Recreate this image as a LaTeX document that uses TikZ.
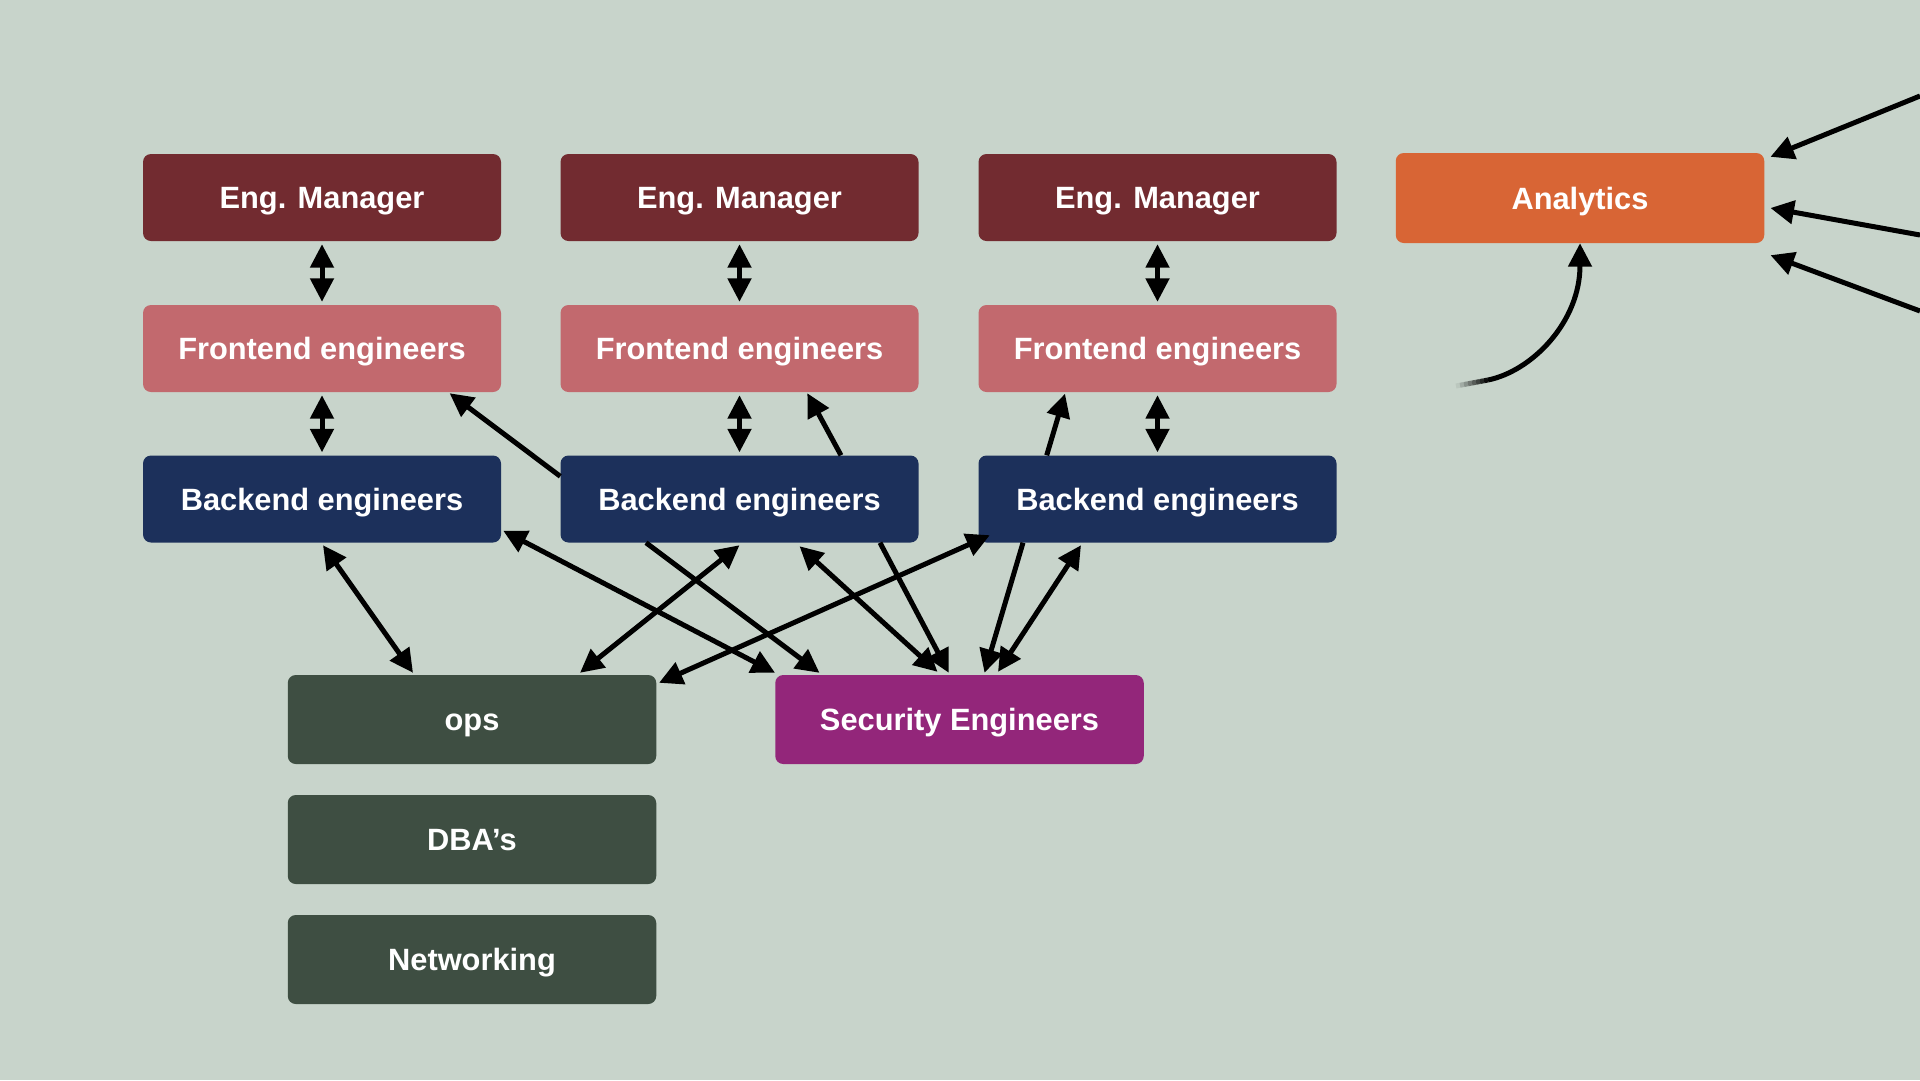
\documentclass[tikz,border=0pt]{standalone}
\usepackage{fontspec}
\setmainfont{Liberation Sans}
\usetikzlibrary{arrows.meta,calc}
\definecolor{bg}{RGB}{200,212,203}
\definecolor{emcol}{RGB}{114,43,48}
\definecolor{fecol}{RGB}{194,105,110}
\definecolor{becol}{RGB}{28,48,91}
\definecolor{opscol}{RGB}{62,78,66}
\definecolor{seccol}{RGB}{147,38,122}
\definecolor{ancol}{RGB}{216,101,53}
\begin{document}
\begin{tikzpicture}[x=1pt,y=-1pt,
  box/.style={rounded corners=8pt, minimum width=358pt, minimum height=87pt, inner sep=0pt,
    text=white, font=\fontsize{30.8}{36}\selectfont\bfseries, text height=22pt, text depth=0pt},
  wbox/.style={box, minimum width=368.5pt, minimum height=89pt},
  con/.style={line width=5pt, -{Triangle[length=23.5pt,width=23pt]}},
  dcon/.style={line width=5pt, {Triangle[length=23.5pt,width=23pt]}-{Triangle[length=23.5pt,width=23pt]}}]
\fill[bg] (0,0) rectangle (1920,1080);
\useasboundingbox (0,0) rectangle (1920,1080);
% managers
\node[box, fill=emcol] (em1) at (322,197.5) {Eng. Manager};
\node[box, fill=emcol] (em2) at (739.5,197.5) {Eng. Manager};
\node[box, fill=emcol] (em3) at (1157.5,197.5) {Eng. Manager};
\node[box, fill=fecol] (fe1) at (322,348.5) {Frontend engineers};
\node[box, fill=fecol] (fe2) at (739.5,348.5) {Frontend engineers};
\node[box, fill=fecol] (fe3) at (1157.5,348.5) {Frontend engineers};
\node[box, fill=becol] (be1) at (322,499) {Backend engineers};
\node[box, fill=becol] (be2) at (739.5,499) {Backend engineers};
\node[box, fill=becol] (be3) at (1157.5,499) {Backend engineers};
\node[wbox, fill=ancol, minimum height=90pt] (an) at (1580,198) {Analytics};
\node[wbox, fill=opscol] (ops) at (472,719.5) {ops};
\node[wbox, fill=opscol] (dba) at (472,839.5) {DBA’s};
\node[wbox, fill=opscol] (net) at (472,959.5) {Networking};
\node[wbox, fill=seccol] (sec) at (959.5,719.5) {Security Engineers};
% vertical links
\foreach \i in {1,2,3}{
  \draw[dcon] ($(em\i.south)+(0,3)$) -- ($(fe\i.north)+(0,-3)$);
  \draw[dcon] ($(fe\i.south)+(0,3)$) -- ($(be\i.north)+(0,-3)$);
}
% cross links
\draw[dcon] ($(be1.south)+(1,2.5)$) -- ($(ops.north)+(-59,-2)$);
\draw[dcon] ($(be1.south east)+(2,-12)$) -- ($(sec.north west)+(0,-2)$);
\draw[con] ($(be2.south)+(-93.5,0)$) -- ($(sec.north)+(-140,-2)$);
\draw[dcon] ($(ops.north)+(108,-2)$) -- ($(be2.south)+(0,2.5)$);
\draw[dcon] ($(be2.south)+(60,3.5)$) -- ($(sec.north)+(-22,-3)$);
\draw[con] ($(be2.south)+(140.5,0)$) -- ($(sec.north)+(-10.7,-2)$);
\draw[dcon] ($(ops.north east)+(2.6,8)$) -- ($(be3.south west)+(11.5,-7.5)$);
\draw[con] ($(be3.south)+(-134.5,0)$) -- ($(sec.north)+(25,-2)$);
\draw[dcon] ($(be3.south)+(-76.5,2.5)$) -- ($(sec.north)+(38.5,-3)$);
\draw[con] ($(be3.north)+(-110.8,0)$) -- ($(fe3.south)+(-92.5,1.5)$);
\draw[con] ($(be2.north west)+(0,21)$) -- ($(fe1.south)+(127.6,1)$);
\draw[con] ($(be2.north)+(101.5,0)$) -- ($(fe2.south)+(67.8,1)$);
% analytics inputs
\coordinate (r1) at (1920,96);
\coordinate (r2) at (1920,235);
\coordinate (r3) at (1920,311);
\draw[con] (r1) -- ($(an.north east)+(6,4)$);
\draw[con] (r2) -- ($(an.east)+(6,10)$);
\draw[con] (r3) -- ($(an.south east)+(6,12)$);
\coordinate (c0) at (1456,386);
\coordinate (c1) at (1488,380);
\foreach \i [evaluate=\i as \p using 100*(\i+0.5)/8] in {0,...,7}
  \draw[line width=5pt, draw=black!\p!bg] ($(c0)!\i/8!(c1)$) -- ($(c0)!{(\i+1)/8}!(c1)$);
\draw[con] (c1) .. controls (1532,371) and (1580,322) .. (an.south);
\end{tikzpicture}
\end{document}
